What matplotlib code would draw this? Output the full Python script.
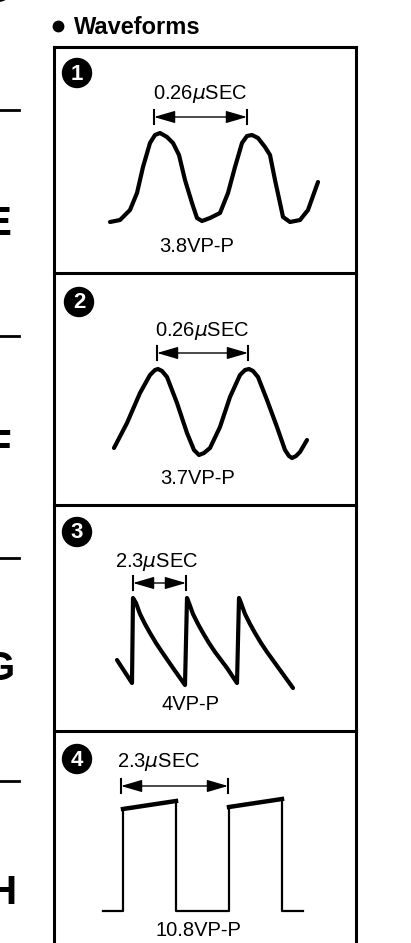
import matplotlib.pyplot as plt
from matplotlib.patches import Circle

plt.rcParams['font.family'] = ['Liberation Sans', 'DejaVu Sans']
plt.rcParams['mathtext.fontset'] = 'dejavusans'

# labels for the four scope traces
badges = ['1', '2', '3', '4']
period_labels = ['0.26$\\mu$SEC', '0.26$\\mu$SEC', '2.3$\\mu$SEC', '2.3$\\mu$SEC']
amp_labels = ['3.8VP-P', '3.7VP-P', '4VP-P', '10.8VP-P']

# waveform traces (pixel units of the page)
wave1_x = [110, 120, 130, 137, 143, 150, 155, 160, 167, 173, 179, 185, 192, 197, 202,
           210, 220, 228, 235, 242, 247, 252, 258, 265, 270, 275, 280, 283, 290, 300,
           308, 318]
wave1_y = [222, 220, 210, 193, 167, 143, 135, 133, 137, 143, 155, 180, 203, 218, 221,
           218, 213, 193, 167, 143, 136, 135, 138, 147, 155, 180, 203, 217, 222, 220,
           210, 182]

wave2_x = [114, 127, 140, 150, 155, 158, 162, 167, 177, 187, 194, 199, 204, 210, 220,
           230, 240, 245, 249, 253, 258, 267, 277, 285, 289, 292, 296, 300, 307]
wave2_y = [448, 423, 393, 375, 370, 369, 371, 377, 403, 433, 450, 455, 453, 448, 427,
           397, 375, 370, 369, 371, 377, 400, 427, 450, 456, 458, 456, 452, 440]

wave3_x = [117, 132, 133, 136, 140, 145, 150, 156, 162, 173, 185, 187, 189, 193, 198,
           203, 209, 215, 227, 237, 239, 241, 245, 250, 255, 261, 267, 280, 293]
wave3_y = [660, 683, 598, 603, 614, 624, 633, 643, 652, 668, 685, 598, 603, 614, 624,
           633, 643, 652, 668, 683, 598, 603, 614, 624, 633, 643, 652, 670, 688]

wave4_x = [103, 123, 123, 176, 176, 229, 229, 282, 282, 303]
wave4_y = [911, 911, 809, 801, 911, 911, 807, 799, 911, 911]

# the period marker spans on each trace
span_x0 = [154, 157, 133, 121]
span_x1 = [247, 248, 186, 228]
span_y = [117, 353, 583, 786]

side_letters = ['D', 'E', 'F', 'G', 'H']
side_letter_y = [-9, 224, 447, 669, 893]
side_letter_x = [12, 11, 11, 15, 16]
side_dash_y = [110, 336, 558, 781]

# layout
panel_tops = [47, 273, 505, 731]
box_left, box_right = 54, 356
badge_xy = [(77, 73), (79, 302), (77, 532), (77, 759)]
period_xy = [(200, 94), (202, 331), (157, 562), (159, 762)]
amp_xy = [(197, 247), (198, 478), (190, 705), (198, 931)]

fig = plt.figure(figsize=(4.11, 9.43), dpi=100)
ax = fig.add_axes([0, 0, 1, 1])
ax.set_xlim(0, 411)
ax.set_ylim(943, 0)
ax.axis('off')

# title
ax.plot(57.5, 26, 'o', color='k', ms=7.5)
ax.text(74, 27, 'Waveforms', fontsize=17, fontweight='bold', ha='left', va='center')

# box and panel separators
ax.plot([box_left, box_left], [panel_tops[0], 943], color='k', lw=2.2)
ax.plot([box_right, box_right], [panel_tops[0], 943], color='k', lw=2.2)
for t in panel_tops:
    ax.plot([box_left, box_right], [t, t], color='k', lw=2.2)

# cut-off letters and dashes on the left edge
for s, x, y in zip(side_letters, side_letter_x, side_letter_y):
    ax.text(x, y, s, fontsize=29, fontweight='bold', ha='right', va='center',
            color='k')
for y in side_dash_y:
    ax.plot([0, 19], [y, y], color='k', lw=2)

waves = [(wave1_x, wave1_y), (wave2_x, wave2_y), (wave3_x, wave3_y)]
for wx, wy in waves:
    ax.plot(wx, wy, color='k', lw=3, solid_joinstyle='round', solid_capstyle='round')

# square wave: thin verticals, heavy tops
ax.plot(wave4_x, wave4_y, color='k', lw=1.6)
ax.plot(wave4_x[2:4], wave4_y[2:4], color='k', lw=3.2)
ax.plot(wave4_x[6:8], wave4_y[6:8], color='k', lw=3.2)

for i in range(4):
    bx, by = badge_xy[i]
    ax.add_patch(Circle((bx, by), 14.5, color='k'))
    ax.text(bx, by + 1, badges[i], color='white', fontsize=16, fontweight='bold',
            ha='center', va='center')
    px, py = period_xy[i]
    ax.text(px, py, period_labels[i], fontsize=14.5, ha='center', va='center')
    axx, ayy = amp_xy[i]
    ax.text(axx, ayy, amp_labels[i], fontsize=14.5, ha='center', va='center')
    x0, x1, y = span_x0[i], span_x1[i], span_y[i]
    ax.plot([x0, x0], [y - 7, y + 7], color='k', lw=1.5)
    ax.plot([x1, x1], [y - 7, y + 7], color='k', lw=1.5)
    ax.annotate('', xy=(x1, y), xytext=(x0, y),
                arrowprops=dict(arrowstyle='<|-|>,head_length=1.3,head_width=0.38',
                                color='k', lw=1.0, mutation_scale=10,
                                shrinkA=0, shrinkB=0))

fig.savefig('out.png', dpi=100)
